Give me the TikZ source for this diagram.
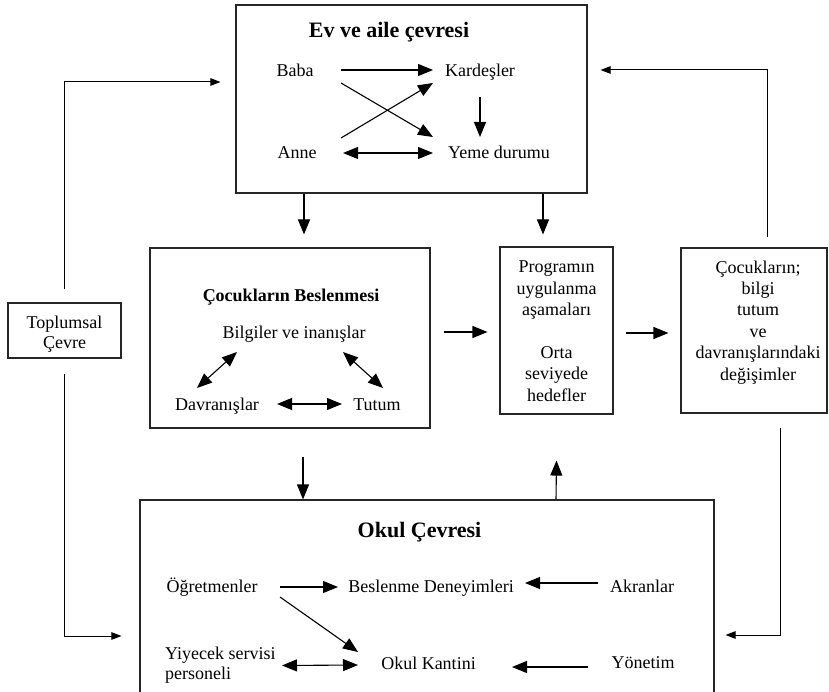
\documentclass[tikz,border=0pt]{standalone}
\usepackage{fontspec}
\setmainfont{Liberation Serif}
\usetikzlibrary{arrows.meta}
\begin{document}
\begin{tikzpicture}[x=1pt,y=-1pt,
  boxnode/.style={draw=black!85,line width=1.1pt,inner sep=0pt},
  lbl/.style={inner sep=0pt,font=\fontsize{18}{21.4}\selectfont,text height=13pt,text depth=3pt},
  mlbl/.style={inner sep=0pt,align=center,font=\fontsize{18}{21.4}\selectfont},
  ttl/.style={inner sep=0pt,font=\bfseries\fontsize{22}{26}\selectfont,text height=15pt,text depth=4pt},
  arr/.style={line width=1.1pt,-{Triangle[length=15pt,width=12pt]}},
  darr/.style={line width=1.1pt,{Triangle[length=15pt,width=12pt]}-{Triangle[length=15pt,width=12pt]}},
  sarr/.style={line width=1pt,-{Triangle[length=10pt,width=7.5pt]}}]
\clip (0,0) rectangle (829,692);
\fill[white] (0,0) rectangle (829,692);

% boxes
\node[boxnode,minimum width=351pt,minimum height=188pt] (ev) at (411.5,99) {};
\node[boxnode,minimum width=280pt,minimum height=180pt] (ces) at (290,338) {};
\node[boxnode,minimum width=113pt,minimum height=167pt] (prog) at (556.5,330.5) {};
\node[boxnode,minimum width=146pt,minimum height=165pt] (chg) at (754,330.5) {};
\node[boxnode,minimum width=574pt,minimum height=200pt] (okul) at (427,600) {};
\node[boxnode,minimum width=113pt,minimum height=55pt] (toplum) at (64.5,330.5) {};
\node[mlbl,font=\fontsize{18}{20}\selectfont] (toplumt) at (64.5,334) {Toplumsal\\Çevre};

% home box contents
\node[ttl] (evt) at (389,32) {Ev ve aile çevresi};
\node[lbl] (baba) at (295,72) {Baba};
\node[lbl] (kard) at (480,72) {Kardeşler};
\node[lbl] (anne) at (297,154) {Anne};
\node[lbl] (yeme) at (499,154) {Yeme durumu};
\draw[arr] ([shift={(46,-2)}]baba.center) -- ([shift={(-47,-2)}]kard.center);
\draw[arr] ([shift={(46,11)}]baba.center) -- ([shift={(-66,-17)}]yeme.center);
\draw[arr] ([shift={(44,-16)}]anne.center) -- ([shift={(-47,11)}]kard.center);
\draw[arr] ([shift={(0,25)}]kard.center) -- ([shift={(-19,-17)}]yeme.center);
\draw[darr] ([shift={(46,-1)}]anne.center) -- ([shift={(-66,-1)}]yeme.center);

% nutrition box contents
\node[ttl,font=\bfseries\fontsize{18}{22}\selectfont] (cest) at (291,296) {Çocukların Beslenmesi};
\node[lbl] (bilg) at (294,333) {Bilgiler ve inanışlar};
\node[lbl] (davr) at (217,405) {Davranışlar};
\node[lbl] (tutum) at (377,405) {Tutum};
\draw[darr] ([shift={(-57,19)}]bilg.center) -- ([shift={(-20,-17)}]davr.center);
\draw[darr] ([shift={(49,19)}]bilg.center) -- ([shift={(6,-17)}]tutum.center);
\draw[darr] ([shift={(60,-1)}]davr.center) -- ([shift={(-35,-1)}]tutum.center);

% program and change texts
\node[mlbl] (progt) at (556.5,331) {Programın\\uygulanma\\aşamaları\\[21.4pt]Orta\\seviyede\\hedefler};
\node[mlbl] (chgt) at (758,322.3) {Çocukların;\\bilgi\\tutum\\ve\\davranışlarındaki\\değişimler};

% school box contents
\node[ttl] (okult) at (419.5,532) {Okul Çevresi};
\node[lbl] (ogr) at (212,587) {Öğretmenler};
\node[lbl] (besl) at (431,587) {Beslenme Deneyimleri};
\node[lbl] (akr) at (642,587) {Akranlar};
\node[mlbl,align=left,anchor=west,font=\fontsize{18}{20}\selectfont] (yiy) at (165,665.5) {Yiyecek servisi\\personeli};
\node[lbl] (kant) at (428.5,664) {Okul Kantini};
\node[lbl] (yon) at (643,663) {Yönetim};
\draw[arr] ([shift={(68,0)}]ogr.center) -- ([shift={(-93,0)}]besl.center);
\draw[arr] ([shift={(-44,-4)}]akr.center) -- ([shift={(94,-4)}]besl.center);
\draw[arr] ([shift={(68,10)}]ogr.center) -- ([shift={(-70.5,-12)}]kant.center);
\draw[darr] ([shift={(117,0)}]yiy.west) -- ([shift={(-70.5,1)}]kant.center);
\draw[arr] ([shift={(-55,4)}]yon.center) -- ([shift={(83.5,3)}]kant.center);

% connectors between boxes
\draw[arr] ([shift={(-107.5,0)}]ev.south) -- ([shift={(14,-13)}]ces.north);
\draw[arr] ([shift={(131.5,0)}]ev.south) -- ([shift={(-13.5,-12)}]prog.north);
\draw[arr] ([shift={(13,-6)}]ces.east) -- ([shift={(-12,1.5)}]prog.west);
\draw[arr] ([shift={(12,2.5)}]prog.east) -- ([shift={(-12,2.5)}]chg.west);
\draw[arr] ([shift={(13,28)}]ces.south) -- ([shift={(-124,0)}]okul.north);
\draw[arr] ([shift={(129,0)}]okul.north) -- ([shift={(0,46)}]prog.south);

% outer loops
\draw[sarr] ([shift={(0,-13)}]toplum.north) |- ([shift={(-15,-17)}]ev.west);
\draw[sarr] ([shift={(0,15)}]toplum.south) |- ([shift={(-18,36)}]okul.west);
\draw[sarr] ([shift={(13,-10)}]chg.north) |- ([shift={(13,-29)}]ev.east);
\draw[sarr] ([shift={(26,14)}]chg.south) |- ([shift={(11,35)}]okul.east);
\end{tikzpicture}
\end{document}
